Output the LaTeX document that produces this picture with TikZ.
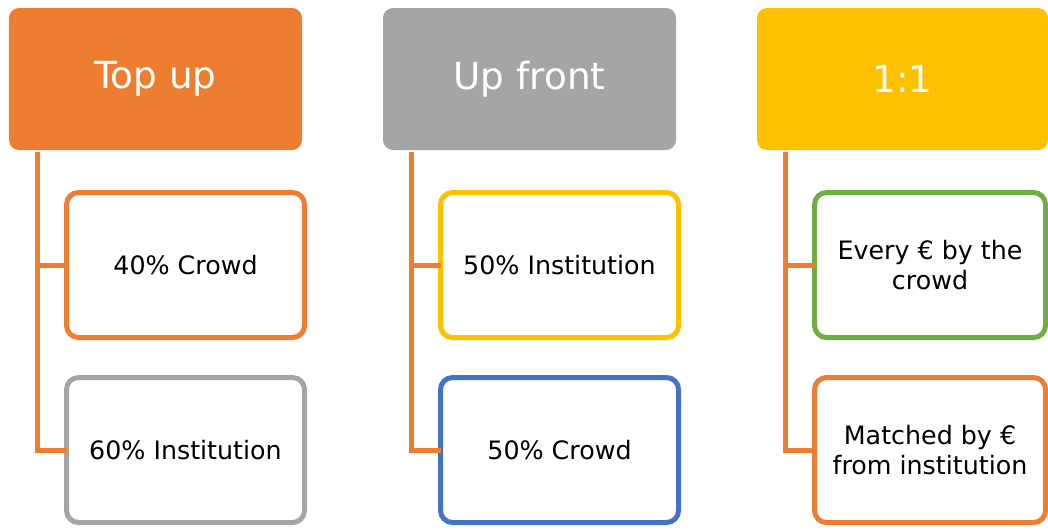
\documentclass[tikz,border=0pt]{standalone}
\usepackage{fontspec}
\setmainfont{DejaVu Sans}
\usetikzlibrary{positioning}
\definecolor{orangecolor}{RGB}{237,125,49}
\definecolor{graycolor}{RGB}{165,165,165}
\definecolor{goldcolor}{RGB}{255,192,0}
\definecolor{bluecolor}{RGB}{68,114,196}
\definecolor{greencolor}{RGB}{112,173,71}

\begin{document}
\begin{tikzpicture}[
    headbox/.style={rectangle, rounded corners=7.5pt, minimum width=219.75pt, minimum height=106.5pt, text=white, font=\fontsize{28}{33}\selectfont, outer sep=0pt},
    partbox/.style={rectangle, draw, line width=3.75pt, fill=white, rounded corners=9pt, minimum width=178.5pt, minimum height=108.75pt, align=center, font=\fontsize{19}{23}\selectfont, outer sep=0pt},
    branch/.style={draw=orangecolor, line width=3.75pt},
    node distance=60.75pt
]
    \useasboundingbox (0,0) rectangle (786pt,-396.75pt);

    % Headers
    \node[headbox, fill=orangecolor, anchor=north west] (topup) at (6.75pt,-6pt) {Top up};
    \node[headbox, fill=graycolor, right=of topup] (upfront) {Up front};
    \node[headbox, fill=goldcolor, right=of upfront, minimum width=218.25pt] (oneone) {1:1};

    % Column 1: Top up
    \node[partbox, draw=orangecolor, below right=31.875pt and 43.125pt of topup.south west] (topcrowd) {40\% Crowd};
    \node[partbox, draw=graycolor, below=30pt of topcrowd] (topinst) {60\% Institution};

    % Column 2: Up front
    \node[partbox, draw=goldcolor, below right=31.875pt and 43.125pt of upfront.south west] (frontinst) {50\% Institution};
    \node[partbox, draw=bluecolor, below=30pt of frontinst] (frontcrowd) {50\% Crowd};

    % Column 3: 1:1
    \node[partbox, draw=greencolor, minimum width=173.25pt, below right=31.875pt and 43.125pt of oneone.south west] (onecrowd) {Every € by the\\crowd};
    \node[partbox, draw=orangecolor, minimum width=173.25pt, below=30pt of onecrowd] (oneinst) {Matched by €\\from institution};

    % Branch lines
    \coordinate (topstem) at ([xshift=21pt,yshift=-1.5pt]topup.south west);
    \coordinate (frontstem) at ([xshift=21pt,yshift=-1.5pt]upfront.south west);
    \coordinate (onestem) at ([xshift=21pt,yshift=-1.5pt]oneone.south west);

    \draw[branch] (topstem) |- (topinst.west);
    \draw[branch] (topstem |- topcrowd.west) -- (topcrowd.west);
    \draw[branch] (frontstem) |- (frontcrowd.west);
    \draw[branch] (frontstem |- frontinst.west) -- (frontinst.west);
    \draw[branch] (onestem) |- (oneinst.west);
    \draw[branch] (onestem |- onecrowd.west) -- (onecrowd.west);

\end{tikzpicture}
\end{document}
